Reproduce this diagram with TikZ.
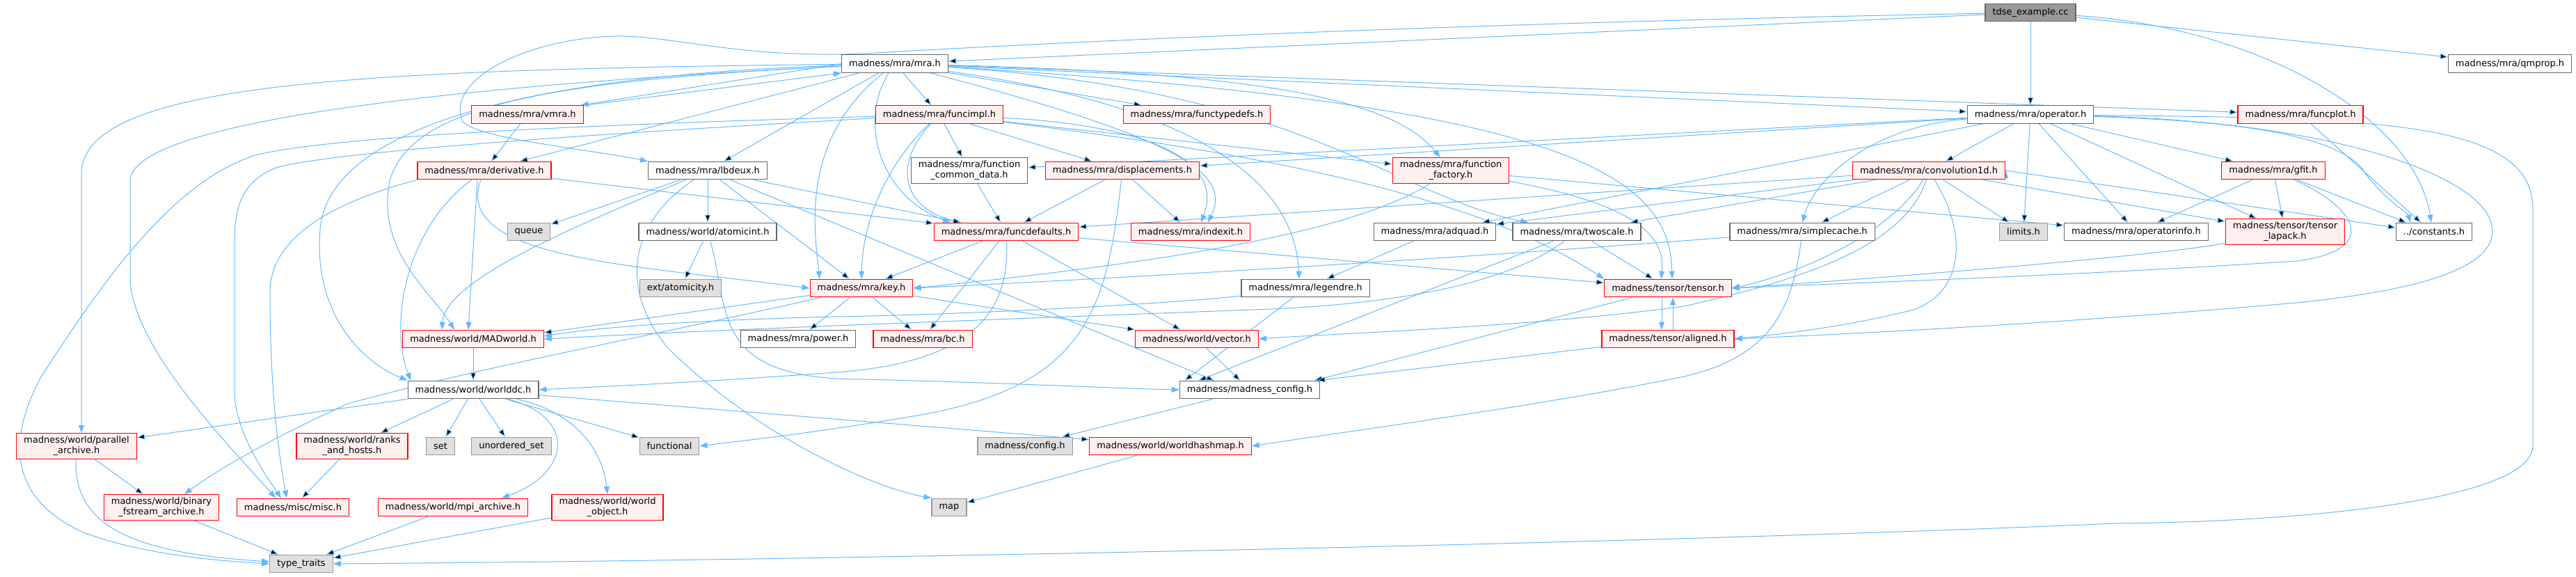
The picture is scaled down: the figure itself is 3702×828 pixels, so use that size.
\documentclass[tikz,border=0pt]{standalone}
\usepackage{fontspec}
\setmainfont{DejaVu Sans}
\usetikzlibrary{arrows.meta}

\definecolor{edgeblue}{HTML}{63B8FF}
\definecolor{hdrborder}{HTML}{666666}
\definecolor{redborder}{HTML}{FF0000}
\definecolor{redfill}{HTML}{FFF0F0}
\definecolor{sysborder}{HTML}{999999}
\definecolor{sysfill}{HTML}{E0E0E0}
\definecolor{mainfill}{HTML}{999999}

\pgfdeclarelayer{edges}
\pgfsetlayers{edges,main}

\begin{document}
\begin{tikzpicture}[x=1pt, y=-1pt,
    hfile/.style={draw=hdrborder, fill=white, line width=1.2pt, rectangle,
      minimum height=25.6pt, inner xsep=10.5pt, inner ysep=4.5pt,
      align=center, font=\fontsize{13}{15}\selectfont},
    hred/.style={hfile, draw=redborder, fill=redfill},
    hsys/.style={hfile, draw=sysborder, fill=sysfill},
    hmain/.style={hfile, fill=mainfill},
    dep/.style={draw=edgeblue, line width=1pt, -{Triangle[length=11pt, width=8pt]}}]

  \useasboundingbox (0,0) rectangle (3702,828);

  % the source file and the first level
  \node[hmain] (tdse)   at (2918,18)   {tdse\_example.cc};
  \node[hfile] (mra)    at (1286,91.5) {madness/mra/mra.h};
  \node[hfile] (qmprop) at (3607,91.5) {madness/mra/qmprop.h};

  \node[hred]  (vmra)         at (758,164.5)  {madness/mra/vmra.h};
  \node[hred]  (funcimpl)     at (1350,164.5) {madness/mra/funcimpl.h};
  \node[hred]  (functypedefs) at (1720,164.5) {madness/mra/functypedefs.h};
  \node[hfile] (operator)     at (2918,164.5) {madness/mra/operator.h};
  \node[hred]  (funcplot)     at (3306,164.5) {madness/mra/funcplot.h};

  \node[hred]  (derivative)    at (696,245)  {madness/mra/derivative.h};
  \node[hfile] (lbdeux)        at (1017,245) {madness/mra/lbdeux.h};
  \node[hfile] (fcommon)       at (1393,245) {madness/mra/function\\\_common\_data.h};
  \node[hred]  (displacements) at (1613,245) {madness/mra/displacements.h};
  \node[hred]  (ffactory)      at (2085,245) {madness/mra/function\\\_factory.h};
  \node[hred]  (conv)          at (2772,245) {madness/mra/convolution1d.h};
  \node[hred]  (gfit)          at (3267,245) {madness/mra/gfit.h};

  \node[hsys]  (queue)        at (760,333)  {queue};
  \node[hfile] (atomicint)    at (1017,333) {madness/world/atomicint.h};
  \node[hred]  (funcdefaults) at (1446,333) {madness/mra/funcdefaults.h};
  \node[hred]  (indexit)      at (1711,333) {madness/mra/indexit.h};
  \node[hfile] (adquad)       at (2062,333) {madness/mra/adquad.h};
  \node[hfile] (twoscale)     at (2266,333) {madness/mra/twoscale.h};
  \node[hfile] (simplecache)  at (2590,333) {madness/mra/simplecache.h};
  \node[hsys]  (limits)       at (2908,333) {limits.h};
  \node[hfile] (opinfo)       at (3070,333) {madness/mra/operatorinfo.h};
  \node[hred]  (tlapack)      at (3284,333) {madness/tensor/tensor\\\_lapack.h};
  \node[hfile] (constants)    at (3498,333) {../constants.h};

  \node[hsys]  (atomicity) at (978,414)  {ext/atomicity.h};
  \node[hred]  (key)       at (1238,414) {madness/mra/key.h};
  \node[hfile] (legendre)  at (1876,414) {madness/mra/legendre.h};
  \node[hred]  (tensor)    at (2397,414) {madness/tensor/tensor.h};

  \node[hred]  (madworld) at (680,487)  {madness/world/MADworld.h};
  \node[hfile] (power)    at (1147,487) {madness/mra/power.h};
  \node[hred]  (bc)       at (1326,487) {madness/mra/bc.h};
  \node[hred]  (vector)   at (1720,487) {madness/world/vector.h};
  \node[hred]  (aligned)  at (2397,487) {madness/tensor/aligned.h};

  \node[hfile] (worlddc) at (680,560)  {madness/world/worlddc.h};
  \node[hfile] (mconfig) at (1796,560) {madness/madness\_config.h};

  \node[hred]  (parallel)   at (110,641)  {madness/world/parallel\\\_archive.h};
  \node[hred]  (ranks)      at (506,641)  {madness/world/ranks\\\_and\_hosts.h};
  \node[hsys]  (set)        at (633,641)  {set};
  \node[hsys]  (uset)       at (735,641)  {unordered\_set};
  \node[hsys]  (functional) at (962,641)  {functional};
  \node[hsys]  (config)     at (1473,641) {madness/config.h};
  \node[hred]  (hashmap)    at (1682,641) {madness/world/worldhashmap.h};

  \node[hred]  (binary)  at (232,729)  {madness/world/binary\\\_fstream\_archive.h};
  \node[hred]  (misc)    at (421,729)  {madness/misc/misc.h};
  \node[hred]  (mpi)     at (651,729)  {madness/world/mpi\_archive.h};
  \node[hred]  (wobject) at (873,729)  {madness/world/world\\\_object.h};
  \node[hsys]  (map)     at (1364,729) {map};

  \node[hsys]  (traits) at (433,810) {type\_traits};

  \begin{pgfonlayer}{edges}
  % includes of tdse_example.cc
  \path[dep] (tdse) edge (mra)
             (tdse) edge (operator)
             (tdse) edge (qmprop);
  \draw[dep] (tdse) .. controls (2000,35) and (1450,65) .. (1240,77)
    .. controls (1050,85) and (950,45) .. (865,53)
    .. controls (740,62) and (640,120) .. (665,175)
    .. controls (690,200) and (850,215) .. (lbdeux.north west);
  \draw[dep] (tdse) .. controls (3250,40) and (3470,170) .. ([xshift=-4pt]constants.north);

  % mra.h
  \draw[dep] (mra.west) -- ([xshift=-4pt]vmra.north east);
  \draw[dep] ([xshift=2pt]vmra.north east) -- (mra.south west);
  \path[dep] (mra) edge (derivative)
             (mra) edge (lbdeux)
             (mra) edge (funcimpl)
             (mra) edge (functypedefs)
             (mra) edge (operator)
             (mra) edge (funcplot);
  \draw[dep] (mra) .. controls (1800,105) and (2000,140) .. (ffactory);
  \draw[dep] (mra) .. controls (1880,130) and (2000,280) .. ([xshift=-70pt]twoscale.north);
  \draw[dep] (mra) .. controls (2250,150) and (2400,250) .. ([xshift=6pt]tensor.north);
  \draw[dep] (mra) .. controls (1700,150) and (1860,250) .. ([xshift=-9pt]legendre.north);
  \draw[dep] (mra) .. controls (1700,200) and (1770,250) .. ([xshift=25pt]indexit.north);
  \draw[dep] (mra) .. controls (1235,170) and (1260,280) .. ([xshift=-80pt]funcdefaults.north);
  \draw[dep] (mra) .. controls (1150,200) and (1170,330) .. ([xshift=-60pt]key.north);
  \draw[dep] (mra) .. controls (800,115) and (590,150) .. (560,260)
    .. controls (540,360) and (620,420) .. ([xshift=-27pt]madworld.north);
  \draw[dep] (mra) .. controls (700,110) and (470,200) .. (460,330)
    .. controls (450,450) and (520,520) .. (worlddc.north west);
  \draw[dep] (mra) .. controls (500,100) and (117,120) .. (117,250)
    -- ([xshift=7pt]parallel.north);
  \draw[dep] (mra) .. controls (600,125) and (187,180) .. (187,260)
    -- (187,400) .. controls (190,500) and (330,640) .. ([xshift=-25pt]misc.north);

  \path[dep] (vmra) edge (derivative);

  % funcimpl.h
  \path[dep] (funcimpl) edge (fcommon)
             (funcimpl) edge (displacements)
             (funcimpl) edge (ffactory);
  \draw[dep] (funcimpl) .. controls (1650,180) and (1760,230) .. ([xshift=15pt]indexit.north);
  \draw[dep] (funcimpl) .. controls (1900,230) and (2150,300) .. (tensor.north west);
  \draw[dep] (funcimpl) .. controls (1290,220) and (1240,300) .. (key.north);
  \draw[dep] (funcimpl) .. controls (1280,240) and (1300,300) .. ([xshift=-65pt]funcdefaults.north);
  \draw[dep] (funcimpl) .. controls (1000,175) and (500,190) .. (367,223)
    .. controls (250,260) and (150,400) .. (60,540)
    .. controls (5,640) and (20,720) .. (120,765)
    .. controls (200,795) and (300,805) .. (traits.west);
  \draw[dep] (funcimpl) .. controls (900,190) and (500,215) .. (400,240)
    .. controls (345,260) and (337,300) .. (337,350) -- (337,560)
    .. controls (337,620) and (380,680) .. ([xshift=-17pt]misc.north);

  % derivative.h
  \path[dep] (derivative) edge (funcdefaults);
  \draw[dep] ([xshift=-10pt]derivative.south) -- ([xshift=-7pt]madworld.north);
  \draw[dep] (derivative) .. controls (580,330) and (560,470) .. ([xshift=5pt]worlddc.north west);
  \draw[dep] (derivative.south west) .. controls (480,290) and (388,340) .. (388,420)
    .. controls (388,560) and (400,650) .. ([xshift=-9pt]misc.north);
  \draw[dep] (derivative) .. controls (650,370) and (900,380) .. (key.west);

  % lbdeux.h
  \path[dep] (lbdeux) edge (queue)
             (lbdeux) edge (atomicint)
             (lbdeux) edge (funcdefaults)
             (lbdeux) edge (key)
             (lbdeux) edge ([xshift=50pt]mconfig.north west);
  \draw[dep] (lbdeux) .. controls (840,320) and (640,400) .. ([xshift=-45pt]madworld.north);
  \draw[dep] (lbdeux) .. controls (890,330) and (900,430) .. (960,500)
    .. controls (1080,620) and (1250,700) .. (map.north west);

  \path[dep] (atomicint) edge (atomicity);
  \draw[dep] (atomicint) .. controls (1050,450) and (1020,545) .. (1240,545)
    .. controls (1450,550) and (1600,558) .. (mconfig.west);

  \path[dep] (fcommon) edge (funcdefaults)
             (displacements) edge (funcdefaults)
             (displacements) edge (indexit);
  \draw[dep] (displacements) .. controls (1590,450) and (1560,560) .. (1300,600)
    .. controls (1150,625) and (1050,635) .. (functional.east);

  % function_factory.h
  \path[dep] (ffactory) edge (opinfo);
  \draw[dep] (ffactory) .. controls (1950,330) and (1700,375) .. (key.east);
  \draw[dep] (ffactory) .. controls (2330,290) and (2395,330) .. ([xshift=-10pt]tensor.north);

  % convolution1d.h
  \path[dep] (conv) edge (simplecache)
             (conv) edge (limits)
             (conv) edge (tlapack)
             (conv.east) edge ([yshift=6pt]constants.west)
             (conv) edge (adquad)
             (conv) edge (twoscale)
             (conv) edge (funcdefaults);
  \draw[dep] (conv) .. controls (2720,330) and (2600,390) .. (tensor.east);
  \draw[dep] (conv) .. controls (2830,340) and (2820,420) .. (2750,445)
    .. controls (2650,470) and (2560,480) .. (aligned.east);
  \draw[dep] (conv) .. controls (2740,350) and (2600,400) .. (2420,440)
    .. controls (2200,470) and (1900,480) .. (vector.east);

  % operator.h
  \path[dep] (operator) edge (conv)
             (operator) edge (limits)
             (operator) edge (opinfo)
             (operator) edge (tlapack)
             (operator) edge (gfit)
             (operator) edge (adquad)
             (operator) edge (displacements)
             (operator) edge (fcommon);
  \draw[dep] (operator) .. controls (2700,180) and (2610,250) .. (simplecache.north);
  \draw[dep] (operator) .. controls (3250,175) and (3370,200) .. (3400,250)
    .. controls (3430,290) and (3460,305) .. ([xshift=-34pt]constants.north);
  \draw[dep] (operator) .. controls (3350,175) and (3560,250) .. (3580,320)
    .. controls (3600,390) and (3450,420) .. (3300,435)
    .. controls (2900,470) and (2600,482) .. (aligned.east);
  \draw[dep] (operator) .. controls (3400,170) and (3640,170) .. (3640,300)
    -- (3640,640) .. controls (3640,720) and (3300,750) .. (3040,752)
    .. controls (2400,780) and (1200,805) .. (traits.east);

  \path[dep] (gfit) edge (opinfo)
             (gfit) edge (tlapack)
             (gfit) edge ([xshift=-40pt]constants.north)
             (funcplot) edge ([xshift=-19pt]constants.north);
  \draw[dep] (gfit) .. controls (3390,300) and (3420,360) .. (3300,375)
    .. controls (3000,395) and (2700,405) .. (tensor.east);
  \draw[dep] (tlapack) .. controls (3100,368) and (2700,400) .. (tensor.east);

  \draw[dep] (simplecache) .. controls (2300,355) and (1900,385) .. (key.east);
  \draw[dep] (simplecache) .. controls (2575,450) and (2540,520) .. (2400,545)
    .. controls (2200,585) and (1900,625) .. (hashmap.east);

  \path[dep] (adquad) edge (legendre)
             (twoscale) edge (tensor)
             (twoscale) edge ([xshift=28pt]mconfig.north west)
             (legendre) edge ([xshift=8pt]mconfig.north west);
  \draw[dep] (twoscale) .. controls (2150,420) and (1950,440) .. (1800,445)
    .. controls (1400,460) and (1000,475) .. (madworld.east);
  \draw[dep] (legendre) .. controls (1700,435) and (1400,452) .. (1200,455)
    .. controls (1000,460) and (860,470) .. ([yshift=4pt]madworld.east);

  % tensor.h and aligned.h include each other
  \draw[dep] ([xshift=-9pt]tensor.south) -- ([xshift=-9pt]aligned.north);
  \draw[dep] ([xshift=7pt]aligned.north) -- ([xshift=7pt]tensor.south);
  \path[dep] (tensor) edge ([xshift=-8pt]mconfig.north east)
             (aligned) edge ([xshift=-4pt]mconfig.north east)
             (vector) edge (mconfig);

  % key.h
  \path[dep] (key) edge (power)
             (key) edge (bc)
             (key) edge (vector)
             (key) edge ([yshift=9pt]madworld.east);
  \draw[dep] (key) .. controls (950,480) and (700,525) .. (500,580)
    .. controls (400,625) and (320,670) .. ([xshift=33pt]binary.north);

  % funcdefaults.h
  \path[dep] (funcdefaults) edge (key)
             (funcdefaults) edge (bc)
             (funcdefaults) edge (vector)
             (funcdefaults) edge (tensor);
  \draw[dep] (funcdefaults) .. controls (1450,430) and (1420,520) .. (1200,535)
    .. controls (1000,550) and (850,556) .. (worlddc.east);

  % worlddc.h
  \path[dep] (madworld) edge (worlddc)
             (worlddc) edge (parallel)
             (worlddc) edge (ranks)
             (worlddc) edge (set)
             (worlddc) edge (uset)
             (worlddc) edge (functional)
             (worlddc) edge (hashmap);
  \draw[dep] (worlddc) .. controls (830,600) and (820,680) .. ([xshift=70pt]mpi.north);
  \draw[dep] (worlddc) .. controls (820,590) and (865,640) .. (wobject.north);

  \path[dep] (parallel) edge (binary)
             (binary) edge (traits)
             (ranks) edge (misc)
             (mpi) edge (traits)
             (wobject) edge (traits)
             (hashmap) edge (map)
             (mconfig) edge (config);
  \draw[dep] (parallel) .. controls (105,760) and (200,795) .. ([yshift=3pt]traits.west);
  \end{pgfonlayer}

\end{tikzpicture}
\end{document}
